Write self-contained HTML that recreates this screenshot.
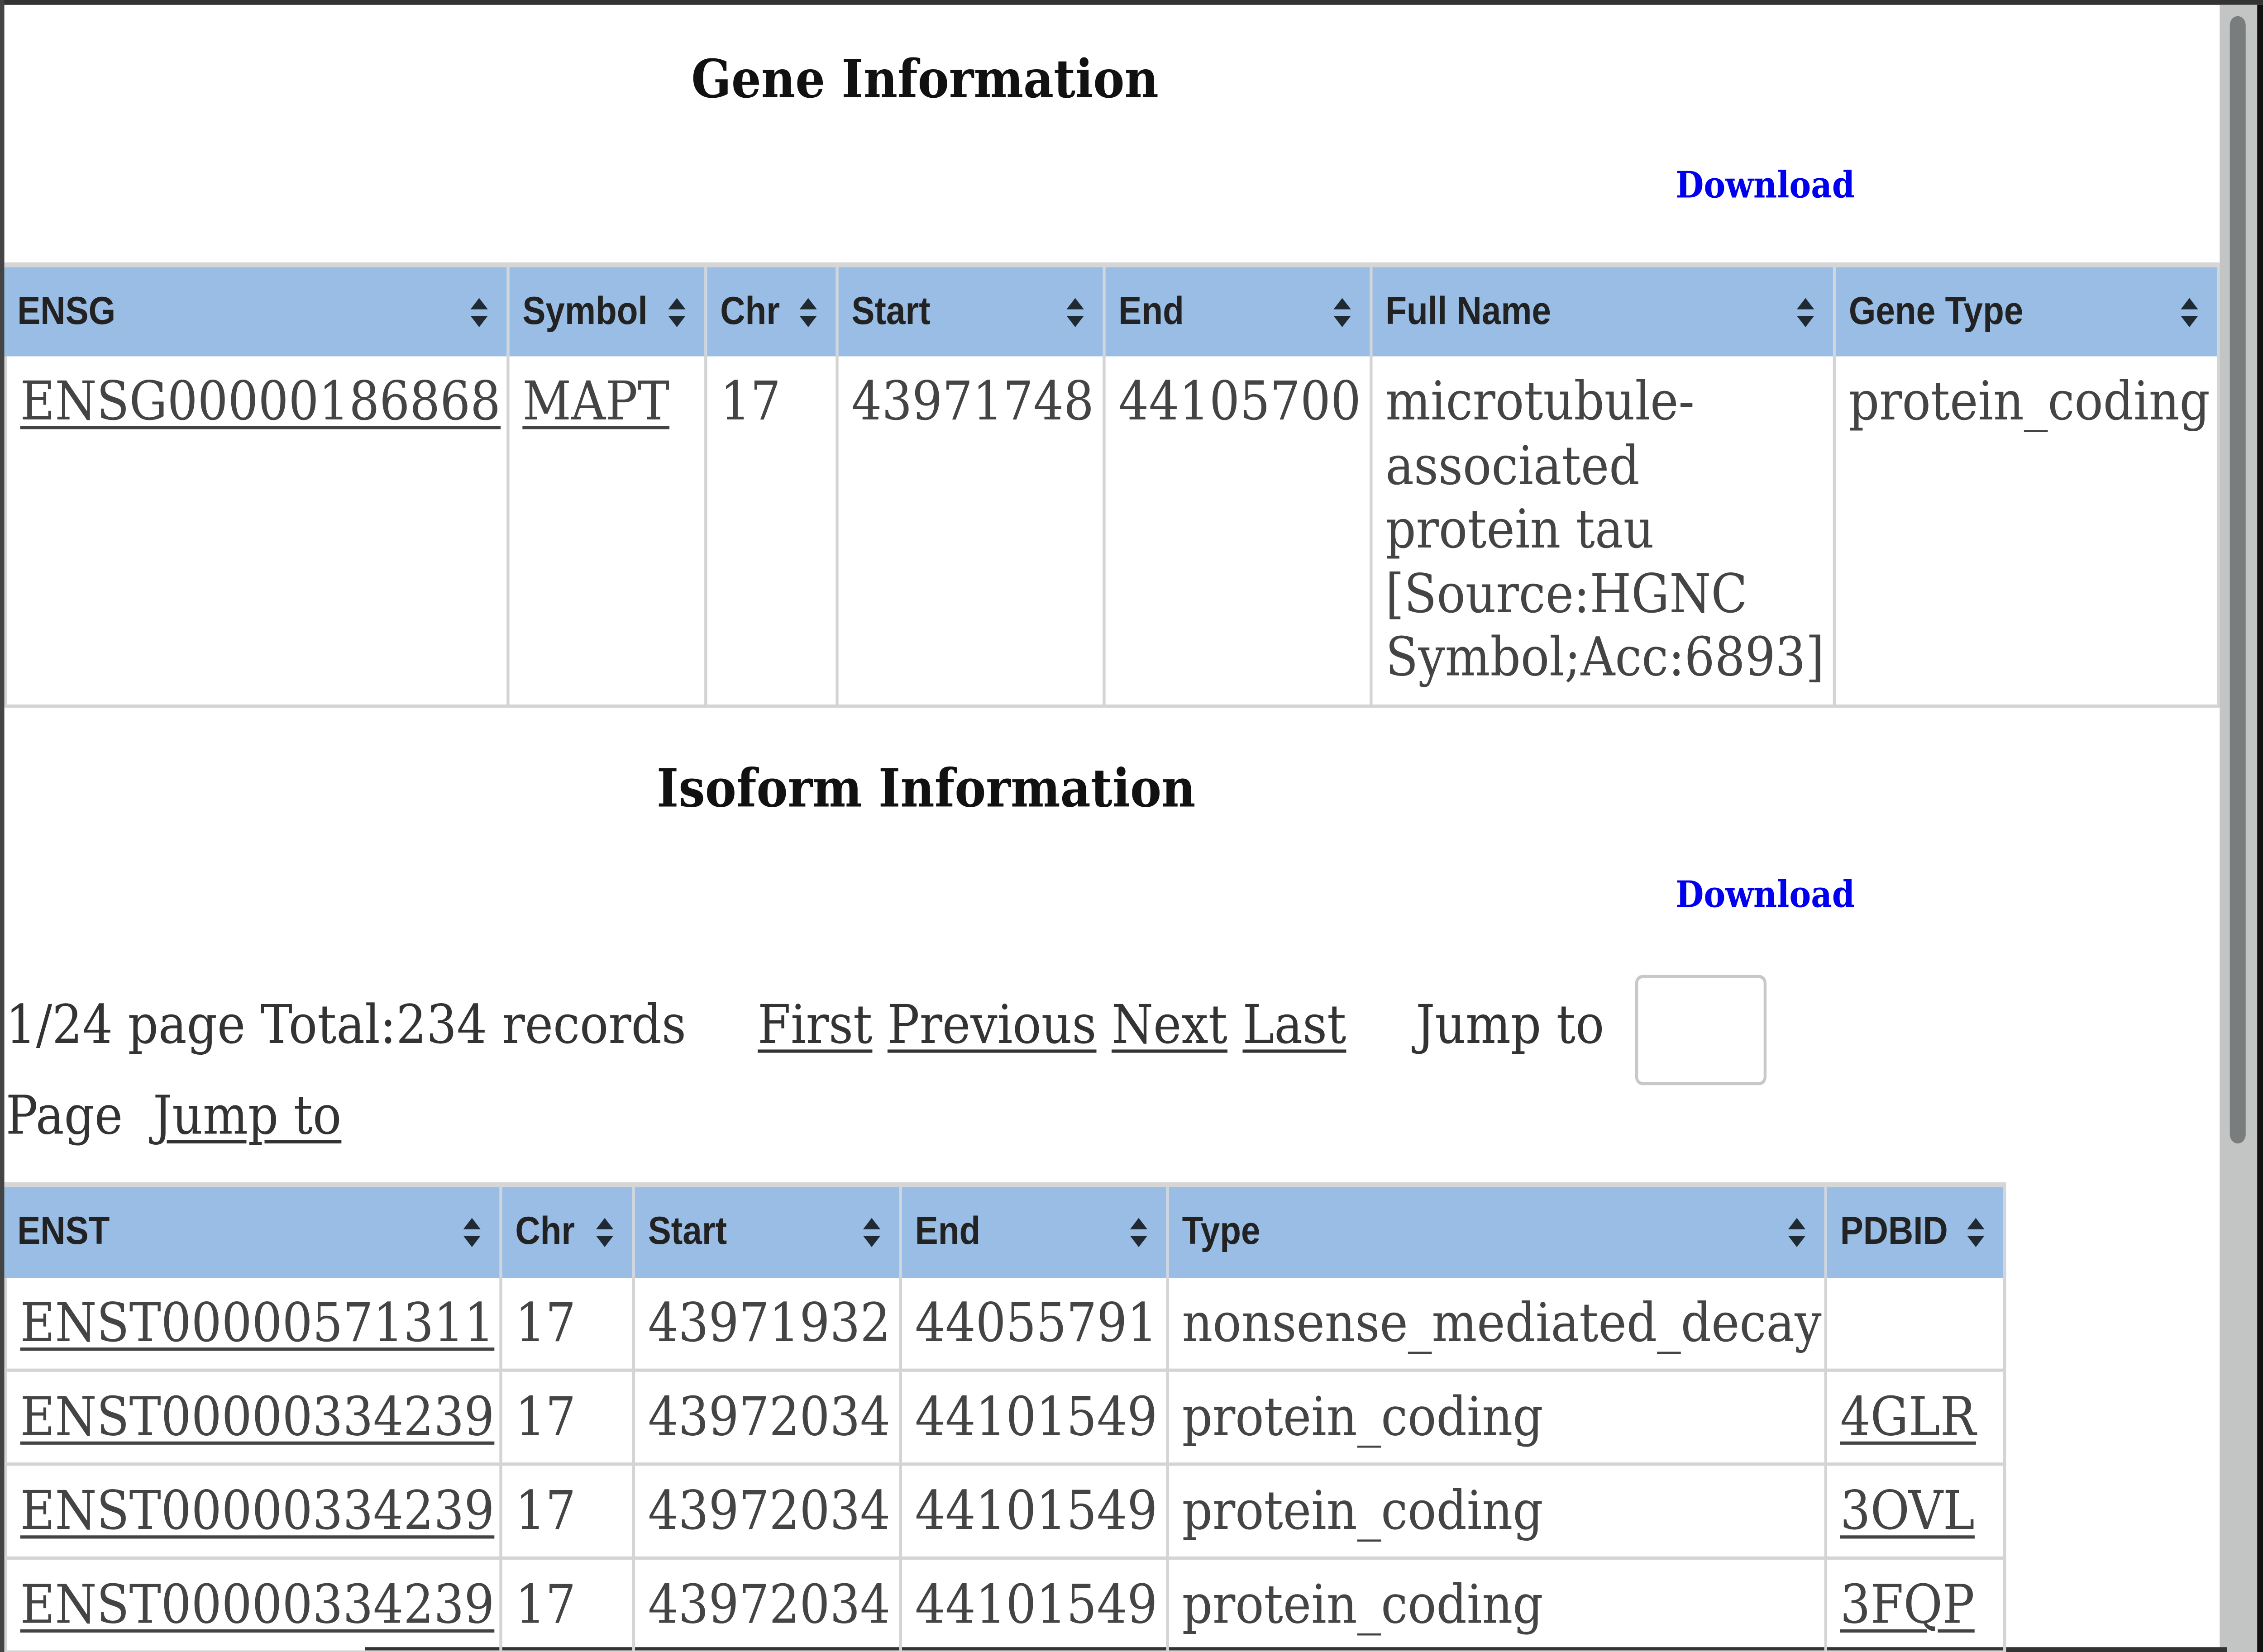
<!DOCTYPE html>
<html><head><meta charset="utf-8">
<style>
html,body{margin:0;padding:0;background:#fff;overflow:hidden;}
#stage{position:absolute;left:0;top:0;width:1568px;height:1020px;transform-origin:0 0;background:#fff;overflow:hidden;}
.a{position:absolute;white-space:nowrap;}
.title{font-family:"DejaVu Serif","Liberation Serif",serif;font-weight:bold;font-size:32.5px;color:#111;}
.dl{font-family:"DejaVu Serif","Liberation Serif",serif;font-weight:bold;font-size:22.5px;color:#0000ee;}
.hd{position:absolute;background:#99bde4;border-right:2px solid #cfd6de;box-sizing:border-box;font-family:"Liberation Sans",sans-serif;font-weight:bold;font-size:24px;color:#222;}
.hd span{position:absolute;left:9px;top:50%;transform:translateY(-50%);}
.hd svg{position:absolute;right:12px;top:50%;margin-top:-10px;}
.cell{position:absolute;box-sizing:border-box;border-right:2px solid #d4d4d4;border-bottom:2px solid #d4d4d4;font-family:"DejaVu Serif","Liberation Serif",serif;font-size:33px;color:#444;line-height:39.5px;padding:8px 0 0 9px;white-space:nowrap;overflow:hidden;}
.cell u{text-decoration:underline;text-decoration-thickness:2px;text-underline-offset:4px;}
.txt{font-family:"DejaVu Serif","Liberation Serif",serif;font-size:33px;color:#333;}
.lnk{text-decoration:underline;text-decoration-thickness:2px;text-underline-offset:4px;color:#333;}
</style></head><body>
<div id="stage">
  <div class="a" style="left:0;top:0;width:1568px;height:3px;background:#333;"></div>
  <div class="a" style="left:0;top:0;width:3px;height:1020px;background:#444;"></div>
  <div class="a" style="left:1538px;top:3px;width:30px;height:1017px;background:#c3c4c4;"></div>
  <div class="a" style="left:1564px;top:3px;width:4px;height:1017px;background:#111;"></div>
  <div class="a" style="left:1545px;top:10px;width:11px;height:696px;background:#7a7d7d;border-radius:6px;"></div>
  <div class="a" style="left:253px;top:1017px;width:1290px;height:3px;background:#333;"></div>

  <div class="a title" style="left:479px;top:29px;">Gene Information</div>
  <div class="a dl" style="left:1161px;top:102px;">Download</div>

  <div class="a title" style="left:455px;top:467px;">Isoform Information</div>
  <div class="a dl" style="left:1161px;top:540px;">Download</div>

  <div class="a txt" style="left:4px;top:613px;">1/24 page Total:234 records</div>
  <div class="a txt" style="left:525px;top:613px;"><span class="lnk">First</span> <span class="lnk">Previous</span> <span class="lnk">Next</span> <span class="lnk">Last</span></div>
  <div class="a txt" style="left:981px;top:613px;">Jump to</div>
  <div class="a" style="left:1133px;top:602px;width:91px;height:68px;box-sizing:border-box;border:2px solid #c8c8c8;border-radius:5px;background:#fff;"></div>
  <div class="a txt" style="left:4px;top:669px;">Page&nbsp; <span class="lnk">Jump to</span></div>
</div>
<script>
const stage=document.getElementById('stage');
(function(){
  const W=window.innerWidth||5614, H=window.innerHeight||3651;
  stage.style.transform='scale('+(W/1568)+','+(H/1020)+')';
})();
const sortSvg='<svg width="14" height="20" viewBox="0 0 14 20"><path d="M7 1 L13 8 L1 8 Z M7 19 L13 12 L1 12 Z" fill="#1f2a33"/></svg>';
function isLink(v){return v!==null&&typeof v==='object'&&v.link===1;}
function makeTable(cols,xs,hy,hh,rows,ry,rhs,prefix){
  const bar=document.createElement('div');
  bar.className='a';
  bar.style.cssText='left:'+xs[0]+'px;top:'+(hy-3)+'px;width:'+(xs[xs.length-1]-xs[0])+'px;height:3px;background:#d6d6d6;';
  
  
  stage.appendChild(bar);
  for(let i=0;i<cols.length;i++){
    const h=document.createElement('div');
    h.className='hd';
    h.style.left=xs[i]+'px';h.style.top=hy+'px';h.style.width=(xs[i+1]-xs[i])+'px';h.style.height=hh+'px';
    h.innerHTML='<span>'+cols[i]+'</span>'+sortSvg;
    
    
    stage.appendChild(h);
  }
  let y=ry;
  rows.forEach((r,ri)=>{
    for(let i=0;i<cols.length;i++){
      const c=document.createElement('div');
      c.className='cell';
      c.style.left=xs[i]+'px';c.style.top=y+'px';c.style.width=(xs[i+1]-xs[i])+'px';c.style.height=rhs[ri]+'px';
      if(i===0)c.style.borderLeft='2px solid #d4d4d4';
      const v=r[i];
      const lk=isLink(v);
      if(lk){c.innerHTML='<u>'+v.t+'</u>';}
      else if(typeof v==='string'){
        v.split('\n').forEach((ln,k)=>{ if(k>0)c.appendChild(document.createElement('br')); c.appendChild(document.createTextNode(ln)); });
      }
      
      
      stage.appendChild(c);
    }
    y+=rhs[ri];
  });
}
makeTable(['ENSG','Symbol','Chr','Start','End','Full Name','Gene Type'],
  [3,353,490,581,766,951,1272,1538],165,55,
  [[{t:'ENSG00000186868',link:1},{t:'MAPT',link:1},'17','43971748','44105700','microtubule-\nassociated\nprotein tau\n[Source:HGNC\nSymbol;Acc:6893]','protein_coding']],
  220,[217],'gene');
makeTable(['ENST','Chr','Start','End','Type','PDBID'],
  [3,348,440,625,810,1266,1390],733,56,
  [[{t:'ENST00000571311',link:1},'17','43971932','44055791','nonsense_mediated_decay',''],
   [{t:'ENST00000334239',link:1},'17','43972034','44101549','protein_coding',{t:'4GLR',link:1}],
   [{t:'ENST00000334239',link:1},'17','43972034','44101549','protein_coding',{t:'3OVL',link:1}],
   [{t:'ENST00000334239',link:1},'17','43972034','44101549','protein_coding',{t:'3FQP',link:1}]],
  789,[58,58,58,58],'isoform');
</script>
</body></html>
